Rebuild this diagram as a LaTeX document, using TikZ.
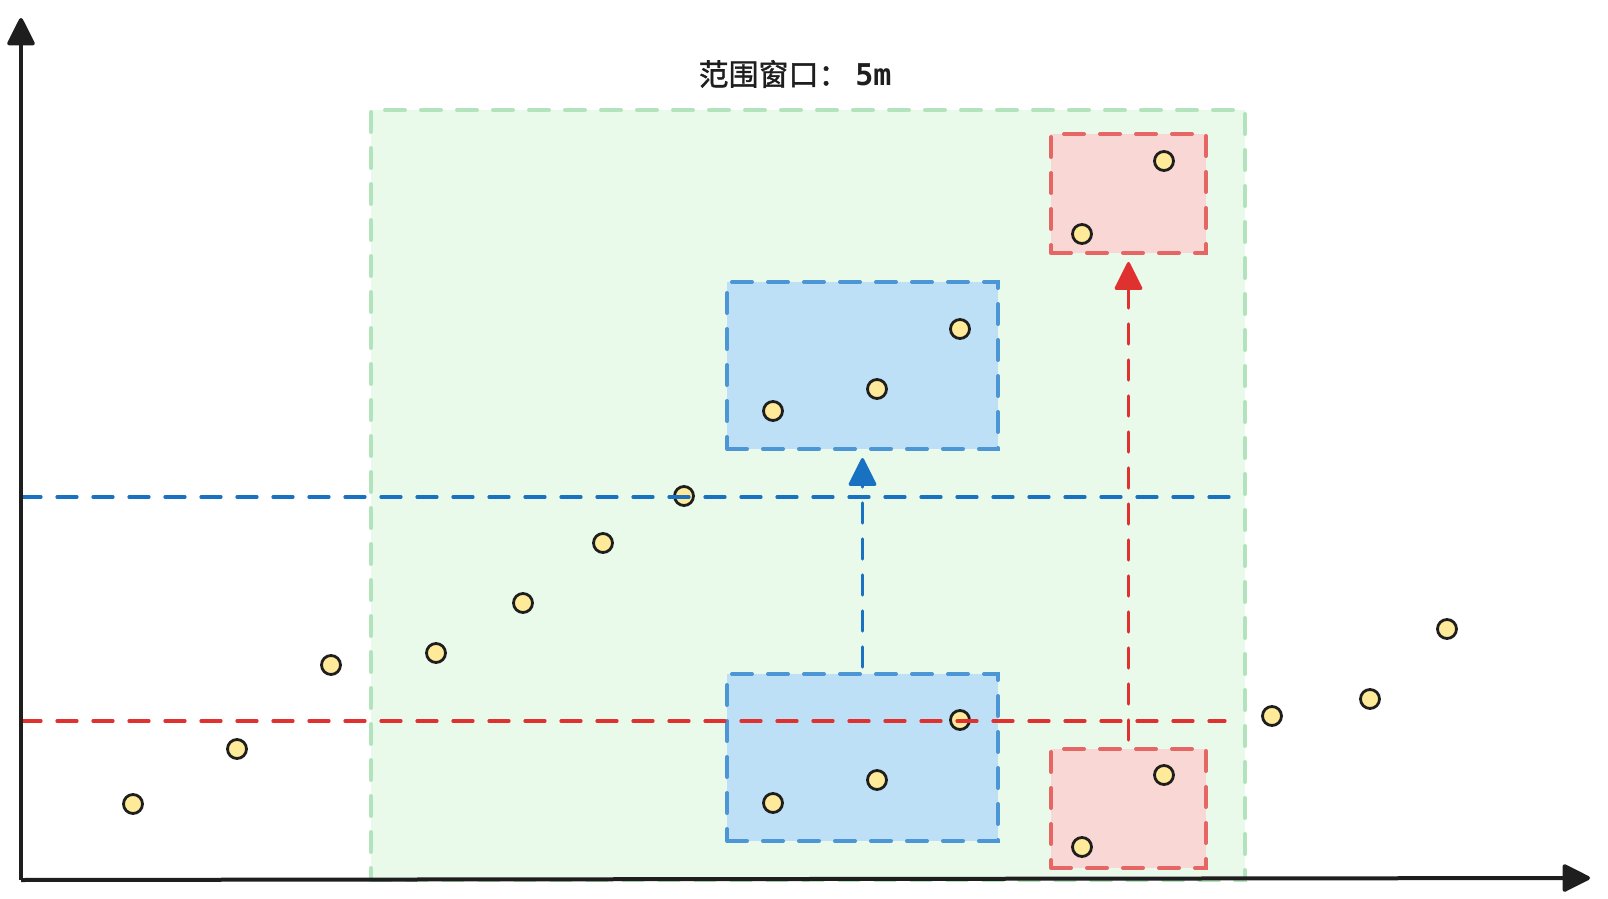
\documentclass[tikz,border=0pt]{standalone}
\usepackage{fontspec}
\setmainfont{Noto Sans CJK SC}[FakeBold=1.2]
\newfontfamily\monofont{DejaVu Sans Mono}
\usetikzlibrary{arrows.meta}
\definecolor{winfill}{HTML}{EAFAEA}
\definecolor{windraw}{HTML}{B3E3BC}
\definecolor{bluefill}{HTML}{BDE0F7}
\definecolor{bluedraw}{HTML}{4D96D6}
\definecolor{redfill}{HTML}{F8D7D4}
\definecolor{reddraw}{HTML}{E66666}
\definecolor{blueline}{HTML}{1971C2}
\definecolor{redline}{HTML}{E03131}
\definecolor{ptfill}{HTML}{FFEA99}
\definecolor{ink}{HTML}{1E1E1E}
\tikzset{
  dashes/.style={dash pattern=on 10pt off 8pt, line cap=round},
  box/.style={dashes, line width=2pt, inner sep=0pt, outer sep=0pt},
  bluebox/.style={box, draw=bluedraw, fill=bluefill,
    minimum width=135.5pt, minimum height=83.5pt},
  redbox/.style={box, draw=reddraw, fill=redfill,
    minimum width=77.5pt, minimum height=59.5pt},
  pt/.style={circle, draw=ink, fill=ptfill, line width=1.4pt,
    minimum size=9.5pt, inner sep=0pt},
  level/.style={dashes, line width=1.6pt},
  tip/.style={-{Triangle[width=14.5pt,length=15pt,round]}},
  axis/.style={draw=ink, line width=2pt, tip},
}
\begin{document}
\begin{tikzpicture}[x=0.5pt,y=-0.5pt]
  \useasboundingbox (0,0) rectangle (1608,899);
  % window
  \node[box, draw=windraw, fill=winfill, minimum width=437pt,
    minimum height=385pt] (win) at (808,495) {};
  \node[font=\fontsize{15}{17}\selectfont, text=ink] (title) at (795,74)
    {范围窗口： {\monofont\bfseries 5m}};
  % boxes
  \node[bluebox] (btop) at (862.5,365.5) {};
  \node[bluebox] (bbot) at (862.5,757.5) {};
  \node[redbox] (rtop) at (1128.5,193.5) {};
  \node[redbox] (rbot) at (1128.5,808.5) {};
  % points
  \foreach \x/\y [count=\i] in {133/804, 237/749, 331/665, 436/653,
      523/603, 603/543, 684/496, 773/411, 877/389, 960/329,
      1082/234, 1164/161, 773/803, 877/780, 960/720, 1082/847,
      1164/775, 1272/716, 1370/699, 1447/629}
    \node[pt] (p\i) at (\x,\y) {};
  % levels
  \coordinate (bl) at (21,497);
  \coordinate (br) at (1231,497);
  \coordinate (rl) at (21,721);
  \coordinate (rr) at (1225,721);
  \draw[level, blueline] (bl) -- (br);
  \draw[level, redline] (rl) -- (rr);
  % moves
  \draw[level, blueline, tip, shorten <=3.5pt, shorten >=4.5pt]
    (bbot.north) -- (btop.south);
  \draw[level, redline, tip, shorten <=4.5pt, shorten >=4.5pt]
    (rbot.north) -- (rtop.south);
  % axes
  \coordinate (o) at (21,880);
  \coordinate (ytop) at (21,18);
  \coordinate (xend) at (1590,878);
  \draw[axis] (o) -- (ytop);
  \draw[axis] (o) -- (xend);
\end{tikzpicture}
\end{document}
